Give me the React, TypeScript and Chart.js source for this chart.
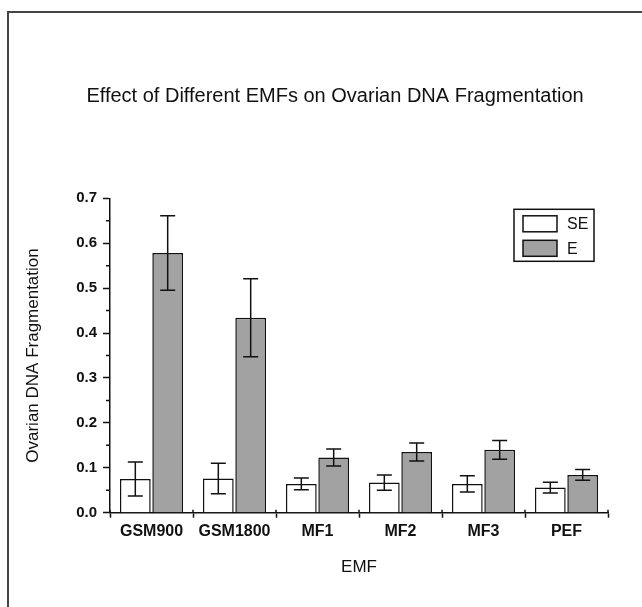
import React, { useEffect, useRef } from 'react';
import { Chart, registerables } from 'chart.js';

Chart.register(...registerables);

// ---- data ----
const categories = ['GSM900', 'GSM1800', 'MF1', 'MF2', 'MF3', 'PEF'];
const seriesLabels = ['SE', 'E'];
const seValues = [0.075, 0.076, 0.064, 0.067, 0.064, 0.056];
const seErrors = [0.038, 0.034, 0.013, 0.017, 0.018, 0.012];
const eValues = [0.578, 0.434, 0.123, 0.135, 0.14, 0.084];
const eErrors = [0.083, 0.087, 0.019, 0.02, 0.021, 0.012];
const yTickValues = [0, 0.1, 0.2, 0.3, 0.4, 0.5, 0.6, 0.7];
const yMinorTickValues = [0.05, 0.15, 0.25, 0.35, 0.45, 0.55, 0.65];

const chartTitle = 'Effect of Different EMFs on Ovarian DNA Fragmentation';
const xTitle = 'EMF';
const yTitle = 'Ovarian DNA Fragmentation';

const FONT = "'Liberation Sans', Arial, Helvetica, sans-serif";
const SE_COLOR = '#ffffff';
const E_COLOR = '#a2a2a2';

const errorBarPlugin = {
  id: 'errorBars',
  afterDatasetsDraw(chart: any) {
    const ctx = chart.ctx;
    const yScale = chart.scales.y;
    ctx.save();
    ctx.strokeStyle = '#111';
    ctx.lineWidth = 1.5;
    chart.data.datasets.forEach((ds: any, di: number) => {
      const meta = chart.getDatasetMeta(di);
      const errs: number[] = ds.errors || [];
      meta.data.forEach((bar: any, i: number) => {
        const v = ds.data[i];
        const e = errs[i];
        if (e == null) return;
        const x = bar.x;
        const yt = yScale.getPixelForValue(v + e);
        const yb = yScale.getPixelForValue(v - e);
        const hw = 7.5;
        ctx.beginPath();
        ctx.moveTo(x, yt);
        ctx.lineTo(x, yb);
        ctx.moveTo(x - hw, yt);
        ctx.lineTo(x + hw, yt);
        ctx.moveTo(x - hw, yb);
        ctx.lineTo(x + hw, yb);
        ctx.stroke();
      });
    });
    ctx.restore();
  },
};

const minorTickPlugin = {
  id: 'minorTicks',
  afterDraw(chart: any) {
    const ctx = chart.ctx;
    const yScale = chart.scales.y;
    const xScale = chart.scales.x;
    const area = chart.chartArea;
    ctx.save();
    ctx.strokeStyle = '#111';
    ctx.lineWidth = 1.5;
    ctx.beginPath();
    yMinorTickValues.forEach((v) => {
      const y = yScale.getPixelForValue(v);
      ctx.moveTo(area.left - 4, y);
      ctx.lineTo(area.left, y);
    });
    for (let i = 0; i <= categories.length; i++) {
      const x = xScale.getPixelForValue(i - 0.5);
      ctx.moveTo(x, area.bottom);
      ctx.lineTo(x, area.bottom - 3);
    }
    ctx.stroke();
    ctx.restore();
  },
};

const boxLegendPlugin = {
  id: 'boxLegend',
  afterDraw(chart: any) {
    const ctx = chart.ctx;
    const area = chart.chartArea;
    const w = 80;
    const h = 52;
    const left = area.right - 14 - w;
    const top = area.top + 11;
    ctx.save();
    ctx.fillStyle = '#fff';
    ctx.fillRect(left, top, w, h);
    ctx.strokeStyle = '#111';
    ctx.lineWidth = 1.5;
    ctx.strokeRect(left, top, w, h);
    ctx.font = `16px ${FONT}`;
    ctx.textBaseline = 'middle';
    ctx.textAlign = 'left';
    chart.data.datasets.forEach((ds: any, i: number) => {
      const sy = top + 6.5 + i * 24.5;
      ctx.fillStyle = ds.backgroundColor;
      ctx.fillRect(left + 9, sy, 34, 16);
      ctx.strokeStyle = '#111';
      ctx.lineWidth = 1.5;
      ctx.strokeRect(left + 9, sy, 34, 16);
      ctx.fillStyle = '#111';
      ctx.fillText(ds.label, left + 53, sy + 9);
    });
    ctx.restore();
  },
};

export default function App() {
  const canvasRef = useRef<HTMLCanvasElement | null>(null);

  useEffect(() => {
    if (!canvasRef.current) return;
    const chart = new Chart(canvasRef.current, {
      type: 'bar',
      data: {
        labels: categories,
        datasets: [
          {
            label: seriesLabels[0],
            data: seValues,
            errors: seErrors,
            backgroundColor: SE_COLOR,
            borderColor: '#111',
            borderWidth: 1.5,
          } as any,
          {
            label: seriesLabels[1],
            data: eValues,
            errors: eErrors,
            backgroundColor: E_COLOR,
            borderColor: '#111',
            borderWidth: 1.5,
          } as any,
        ],
      },
      options: {
        responsive: false,
        animation: false,
        devicePixelRatio: 1,
        layout: { padding: 0 },
        datasets: {
          bar: { categoryPercentage: 0.78, barPercentage: 0.95 },
        },
        plugins: {
          legend: { display: false },
          tooltip: { enabled: false },
          title: {
            display: true,
            text: chartTitle,
            color: '#111',
            font: { family: FONT, size: 20, weight: 'normal', lineHeight: 1.2 },
            padding: { top: 84, bottom: 90.3 },
          },
        },
        scales: {
          x: {
            type: 'category',
            offset: true,
            grid: {
              display: true,
              offset: true,
              drawOnChartArea: false,
              drawTicks: true,
              tickLength: 5,
              tickColor: '#111',
              tickWidth: 1.5,
            },
            border: { display: true, color: '#111', width: 1.5 },
            ticks: {
              color: '#111',
              padding: 4,
              font: { family: FONT, size: 16, weight: 'bold' },
              maxRotation: 0,
              autoSkip: false,
            },
            title: {
              display: true,
              text: xTitle,
              color: '#111',
              font: { family: FONT, size: 17, lineHeight: 1.2 },
              padding: { top: 0, bottom: 29.8 },
            },
            afterFit: (s: any) => {
              s.height = 94.3;
            },
          },
          y: {
            type: 'linear',
            min: 0,
            max: 0.7,
            afterBuildTicks: (s: any) => {
              s.ticks = yTickValues.map((v) => ({ value: v }));
            },
            grid: {
              display: true,
              drawOnChartArea: false,
              drawTicks: true,
              tickLength: 7,
              tickColor: '#111',
              tickWidth: 1.5,
            },
            border: { display: true, color: '#111', width: 1.5 },
            ticks: {
              color: '#111',
              padding: 6,
              font: { family: FONT, size: 15, weight: 'bold' },
              callback: (v: any) => Number(v).toFixed(1),
            },
            title: {
              display: true,
              text: yTitle,
              color: '#111',
              font: { family: FONT, size: 17, lineHeight: 1.2 },
              padding: { top: 8.8, bottom: 0 },
            },
            afterFit: (s: any) => {
              s.width = 96;
            },
          },
          y2: {
            type: 'linear',
            position: 'right',
            display: true,
            grid: { display: false, drawTicks: false },
            border: { display: false },
            ticks: { display: false },
            afterFit: (s: any) => {
              s.width = 48;
            },
          },
        },
      } as any,
      plugins: [errorBarPlugin, minorTickPlugin, boxLegendPlugin],
    });
    return () => chart.destroy();
  }, []);

  return (
    <div
      style={{
        position: 'absolute',
        left: 0,
        top: 0,
        width: 642,
        height: 607,
        overflow: 'hidden',
        background: '#fff',
      }}
    >
      <div
        style={{
          position: 'absolute',
          left: 7,
          top: 11,
          width: 700,
          height: 700,
          borderLeft: '2px solid #444',
          borderTop: '2px solid #444',
        }}
      />
      <canvas
        ref={canvasRef}
        width={642}
        height={607}
        style={{ position: 'absolute', left: 14, top: 0, width: 642, height: 607 }}
      />
    </div>
  );
}
